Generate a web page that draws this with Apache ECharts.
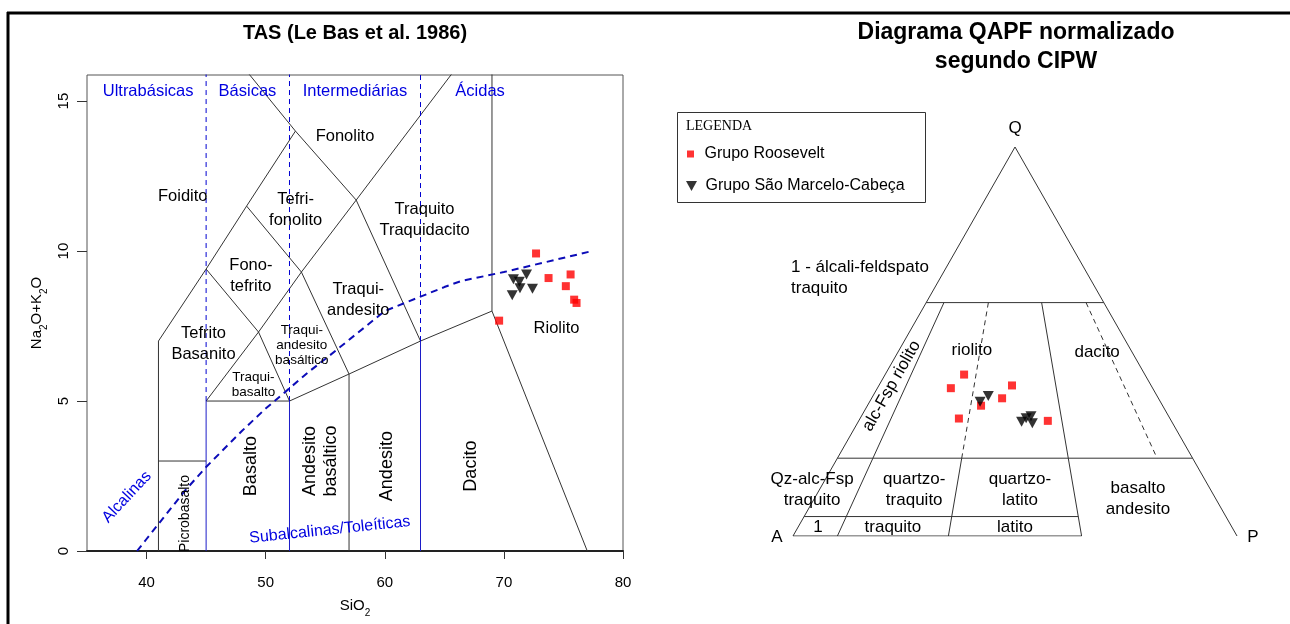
<!DOCTYPE html>
<html>
<head>
<meta charset="utf-8">
<script src="https://cdn.jsdelivr.net/npm/echarts@6/dist/echarts.min.js"></script>
<style>
  html, body { margin: 0; padding: 0; background: #fff; }
  #chart { width: 1290px; height: 624px; }
</style>
</head>
<body>
<div id="chart"></div>
<script>
// ---------------- DATA ----------------
// TAS axis ticks
const siO2Ticks = [40, 50, 60, 70, 80];
const alkTicks = [0, 5, 10, 15];

// TAS samples (SiO2 wt%, Na2O+K2O wt%)
const tasRooseveltSiO2 = [72.7, 73.75, 75.6, 75.2, 75.9, 76.1, 69.6];
const tasRooseveltAlk  = [9.92, 9.10, 9.22, 8.83, 8.38, 8.27, 7.68];
const tasSMCSiO2 = [71.9, 70.8, 71.3, 71.35, 72.4, 70.7];
const tasSMCAlk  = [9.22, 9.06, 8.98, 8.76, 8.74, 8.53];

// QAPF samples (Q %, P/(A+P) %)
const qapfRooseveltQ = [41.5, 38.0, 38.7, 35.4, 33.5, 30.2, 29.6];
const qapfRooseveltP = [30.4, 26.7, 48.9, 45.5, 38.5, 31.9, 60.5];
const qapfSMCQ = [34.5, 36.0, 29.4, 30.8, 29.0, 30.3];
const qapfSMCP = [38.0, 40.6, 52.1, 55.2, 55.5, 53.6];

// TAS field boundaries (Le Bas et al. 1986)
const tasFieldLines = [
  [[41,0],[41,7],[45,9.4],[48.4,11.5],[52.5,14],[48.4,16]],
  [[41,3],[45,3]],
  [[45,5],[52,5],[57,5.9],[63,7],[69,8],[77,0]],
  [[45,5],[49.4,7.3],[52,5]],
  [[45,9.4],[49.4,7.3],[53,9.3],[57,5.9],[57,0]],
  [[48.4,11.5],[53,9.3],[57.6,11.7],[63,7]],
  [[52.5,14],[57.6,11.7],[65.8,16]],
  [[69,8],[69,16]]
];
const tasBlueSolid = [
  [[45,0],[45,5]], [[52,0],[52,5]], [[63,0],[63,7]]
];
const tasBlueDashed = [
  [[45,5],[45,16]], [[52,5],[52,16]], [[63,7],[63,16]]
];
// Irvine & Baragar (1971) alkaline / subalkaline divide
const alkalineDivide = [[39.2,0],[40,0.4],[43.2,2],[45,2.8],[48,4],[50,4.75],[53.7,6],[55,6.4],[60,8],[65,8.8],[66.4,9],[70,9.3],[77.4,10]];

// TAS labels [text, SiO2, alkalis]
const tasLabelsMain = [
  ['Foidito', 43.04, 11.83],
  ['Fonolito', 56.66, 13.83],
  ['Tefri-\nfonolito', 52.52, 11.37],
  ['Traquito\nTraquidacito', 63.34, 11.03],
  ['Fono-\ntefrito', 48.76, 9.16],
  ['Traqui-\nandesito', 57.77, 8.38],
  ['Tefrito\nBasanito', 44.78, 6.9],
  ['Riolito', 74.42, 7.42]
];
const tasLabelsSmall = [
  ['Traqui-\nandesito\nbasáltico', 53.03, 6.85],
  ['Traqui-\nbasalto', 48.97, 5.55]
];
const tasLabelsVertical = [
  ['Basalto', 48.8, 2.83],
  ['Andesito\nbasáltico', 54.64, 3.0],
  ['Andesito', 60.18, 2.83],
  ['Dacito', 67.22, 2.83]
];
const tasLabelsVerticalSmall = [
  ['Picrobasalto', 43.27, 1.25]
];
const tasLabelsBlue = [
  ['Ultrabásicas', 40.13, 15.33],
  ['Básicas', 48.47, 15.33],
  ['Intermediárias', 57.5, 15.33],
  ['Ácidas', 68.0, 15.33]
];
const tasLabelAlcalinas = [['Alcalinas', 38.34, 1.8]];
const tasLabelSubalcalinas = [['Subalcalinas/Toleíticas', 55.39, 0.7]];

// QAPF boundaries, as [P/(A+P) %, Q %]
const qapfSolidLines = [
  [[0,0],[0,100]],
  [[100,100],[100,0]],
  [[0,0],[65,0]],
  [[0,60],[100,60]],
  [[0,20],[100,20]],
  [[0,5],[65,5]],
  [[10,60],[10,0]],
  [[35,20],[35,0]],
  [[65,60],[65,0]]
];
const qapfDashedLines = [
  [[35,60],[35,20]],
  [[90,60],[90,20]]
];
// QAPF labels [text, position along A-P (%), height Q (%)]
const qapfVertexLabels = [['Q', 50, 104.9], ['A', -3.6, -0.26], ['P', 103.6, -0.26]];
const qapfFieldLabels = [
  ['riolito', 40.3, 47.8],
  ['dacito', 68.5, 47.3],
  ['Qz-alc-Fsp\ntraquito', 4.3, 12.0],
  ['quartzo-\ntraquito', 27.3, 12.0],
  ['quartzo-\nlatito', 51.1, 12.0],
  ['basalto\nandesito', 77.7, 9.6],
  ['1', 5.6, 2.3],
  ['traquito', 22.5, 2.3],
  ['latito', 50, 2.3]
];
const qapfLeftLabels = [['1 - álcali-feldspato\ntraquito', -0.45, 66.4]];
const qapfRotatedLabels = [['alc-Fsp riolito', 22.2, 38.6]];

const seriesNames = ['Grupo Roosevelt', 'Grupo São Marcelo-Cabeça'];

// ---------------- BUILD ----------------
const FONT = "'Liberation Sans', Arial, sans-serif";
const triPath = 'path://M0,0L11,0L5.5,10Z';
const sqPath = 'path://M0,0L1,0L1,1L0,1Z';

// ternary (P-ratio, Q) -> diagram cartesian (x along A-P, y = Q)
function tern(r, q) { return [r * (1 - q / 100) + q / 2, q]; }

const series = [];
function addLines(lines, gi, color, width, type, z, project) {
  lines.forEach(pl => {
    series.push({
      type: 'line', xAxisIndex: gi, yAxisIndex: gi, silent: true,
      data: pl.map(p => project ? tern(p[0], p[1]) : p),
      symbol: 'none', z: z || 2,
      lineStyle: { color: color, width: width, type: type || 'solid' }
    });
  });
}
function addLabels(items, gi, style) {
  series.push({
    type: 'scatter', xAxisIndex: gi, yAxisIndex: gi, silent: true, clip: false,
    symbolSize: 0, z: 5,
    data: items.map(it => ({ value: [it[1], it[2]], name: it[0] })),
    label: Object.assign({
      show: true, position: 'inside', formatter: '{b}',
      fontFamily: FONT, color: '#000', textBorderWidth: 0, textBorderColor: 'transparent', opacity: 1
    }, style)
  });
}

addLines(tasFieldLines, 0, '#333', 1);
addLines(tasBlueSolid, 0, '#1c1cc8', 1);
addLines(tasBlueDashed, 0, '#0000d0', 1, [5, 4]);
addLines([alkalineDivide], 0, '#0c0cb8', 2, [7, 5], 3);

addLabels(tasLabelsMain, 0, { fontSize: 16.5, lineHeight: 21 });
addLabels(tasLabelsSmall, 0, { fontSize: 13.5, lineHeight: 15 });
addLabels(tasLabelsVertical, 0, { fontSize: 18, lineHeight: 21, rotate: 90 });
addLabels(tasLabelsVerticalSmall, 0, { fontSize: 14, rotate: 90 });
addLabels(tasLabelsBlue, 0, { fontSize: 16.5, color: '#0000e0' });
addLabels(tasLabelAlcalinas, 0, { fontSize: 16, color: '#0000e0', rotate: 47 });
addLabels(tasLabelSubalcalinas, 0, { fontSize: 16, color: '#0000e0', rotate: 6 });

addLines(qapfSolidLines, 1, '#333', 1, 'solid', 2, true);
addLines(qapfDashedLines, 1, '#333', 1, [5, 4], 2, true);
addLabels(qapfVertexLabels, 1, { fontSize: 17 });
addLabels(qapfFieldLabels, 1, { fontSize: 17, lineHeight: 21 });
addLabels(qapfLeftLabels, 1, { fontSize: 17, lineHeight: 21, align: 'left' });
addLabels(qapfRotatedLabels, 1, { fontSize: 17, rotate: 60.5 });

// data points
series.push({
  type: 'scatter', name: seriesNames[0], xAxisIndex: 0, yAxisIndex: 0, z: 10,
  symbol: sqPath, symbolSize: 8, itemStyle: { color: '#ff0000' },
  data: tasRooseveltSiO2.map((x, i) => [x, tasRooseveltAlk[i]])
});
series.push({
  type: 'scatter', name: seriesNames[1], xAxisIndex: 0, yAxisIndex: 0, z: 10,
  symbol: triPath, symbolSize: [11, 10], itemStyle: { color: '#000' },
  data: tasSMCSiO2.map((x, i) => [x, tasSMCAlk[i]])
});
series.push({
  type: 'scatter', name: seriesNames[0], xAxisIndex: 1, yAxisIndex: 1, z: 10,
  symbol: sqPath, symbolSize: 8, itemStyle: { color: '#ff0000' },
  data: qapfRooseveltQ.map((q, i) => tern(qapfRooseveltP[i], q))
});
series.push({
  type: 'scatter', name: seriesNames[1], xAxisIndex: 1, yAxisIndex: 1, z: 10,
  symbol: triPath, symbolSize: [11, 10], itemStyle: { color: '#000' },
  data: qapfSMCQ.map((q, i) => tern(qapfSMCP[i], q))
});

const subRich = {
  s: { fontSize: 10, fontFamily: FONT, color: '#000', verticalAlign: 'bottom', padding: [0, 0, -5, 0] }
};

const option = {
  animation: false,
  backgroundColor: '#fff',
  textStyle: { fontFamily: FONT },
  grid: [
    { left: 87, top: 75, width: 536, height: 476, show: true, borderColor: '#555', borderWidth: 1 },
    { left: 793, top: 147, width: 444, height: 389, show: false }
  ],
  xAxis: [
    {
      gridIndex: 0, type: 'value', min: 35, max: 80,
      splitLine: { show: false },
      axisLine: { show: true, onZero: false, lineStyle: { color: '#222', width: 2 } },
      axisTick: { show: true, length: 8, customValues: siO2Ticks, lineStyle: { color: '#333' } },
      axisLabel: { customValues: siO2Ticks, margin: 24, fontSize: 15, color: '#000', fontFamily: FONT },
      name: 'SiO{s|2}', nameLocation: 'middle', nameGap: 47,
      nameTextStyle: { fontSize: 15, color: '#000', fontFamily: FONT, rich: subRich }
    },
    { gridIndex: 1, type: 'value', min: 0, max: 100, show: false }
  ],
  yAxis: [
    {
      gridIndex: 0, type: 'value', min: 0, max: 15.87,
      splitLine: { show: false },
      axisLine: { show: false, onZero: false },
      axisTick: { show: true, length: 10, customValues: alkTicks, lineStyle: { color: '#333' } },
      axisLabel: { customValues: alkTicks, rotate: 90, margin: 16, fontSize: 15, color: '#000', fontFamily: FONT },
      name: 'Na{s|2}O+K{s|2}O', nameLocation: 'middle', nameGap: 43, nameRotate: 90,
      nameTextStyle: { fontSize: 15, color: '#000', fontFamily: FONT, rich: subRich }
    },
    { gridIndex: 1, type: 'value', min: 0, max: 100, show: false }
  ],
  legend: [
    {
      data: [{ name: seriesNames[0], icon: sqPath }],
      left: 687, top: 146, padding: 0, itemWidth: 18, itemHeight: 7,
      textStyle: { fontSize: 16, color: '#000', fontFamily: FONT },
      selectedMode: false
    },
    {
      data: [{ name: seriesNames[1], icon: triPath }],
      left: 686, top: 178, padding: 0, itemWidth: 18, itemHeight: 10,
      textStyle: { fontSize: 16, color: '#000', fontFamily: FONT },
      selectedMode: false
    }
  ],
  graphic: [
    { type: 'line', shape: { x1: 7, y1: 13, x2: 1290, y2: 13 }, style: { stroke: '#000', lineWidth: 3 } },
    { type: 'line', shape: { x1: 8, y1: 12, x2: 8, y2: 624 }, style: { stroke: '#000', lineWidth: 3 } },
    { type: 'rect', shape: { x: 677.5, y: 112.5, width: 248, height: 90 }, style: { fill: 'none', stroke: '#333', lineWidth: 1 } },
    { type: 'text', x: 686, y: 126, style: { text: 'LEGENDA', font: "14px 'Liberation Serif', 'Times New Roman', serif", fill: '#000', verticalAlign: 'middle' } },
    { type: 'text', x: 355, y: 33, style: { text: 'TAS (Le Bas et al. 1986)', font: "bold 20px 'Liberation Sans', Arial, sans-serif", fill: '#000', align: 'center', verticalAlign: 'middle' } },
    { type: 'text', x: 1016, y: 47, style: { text: 'Diagrama QAPF normalizado\nsegundo CIPW', font: "bold 23px 'Liberation Sans', Arial, sans-serif", lineHeight: 29, fill: '#000', align: 'center', verticalAlign: 'middle' } }
  ],
  series: series
};

const chart = echarts.init(document.getElementById('chart'), null, { renderer: 'canvas' });
chart.setOption(option);
</script>
</body>
</html>
